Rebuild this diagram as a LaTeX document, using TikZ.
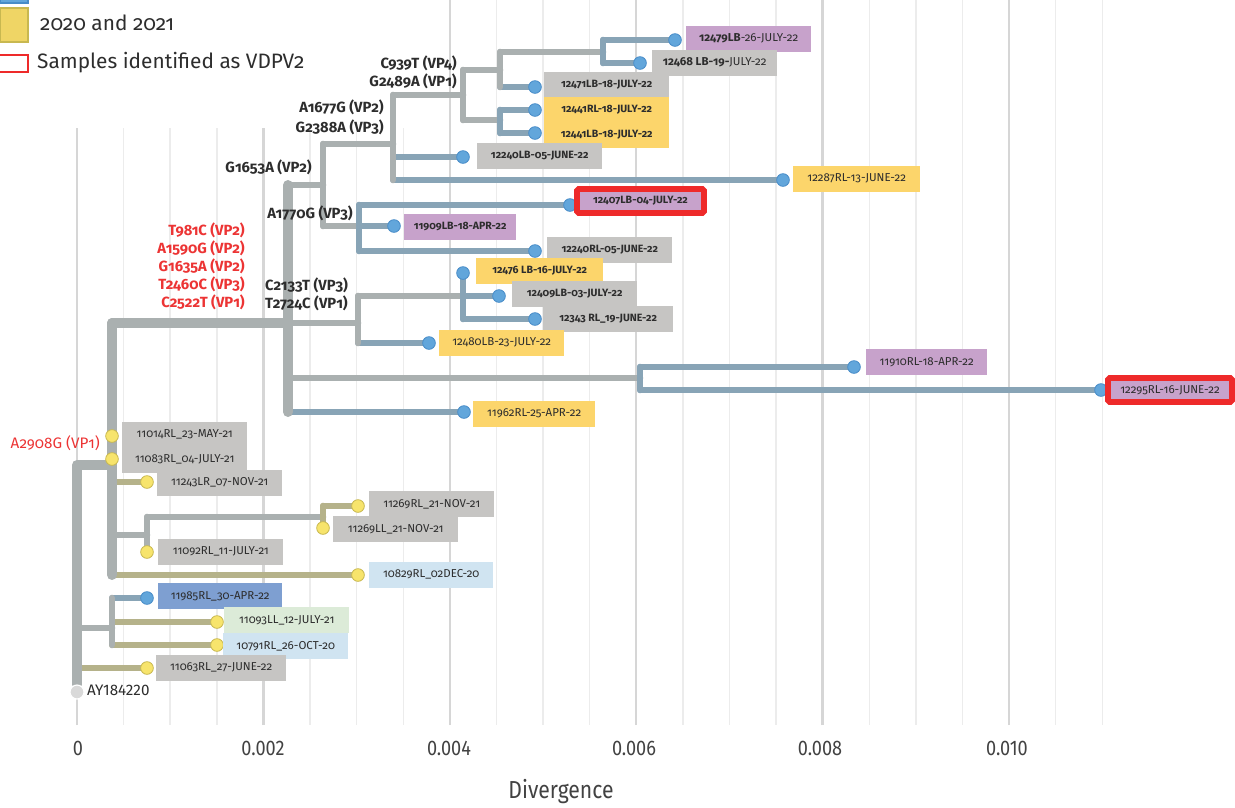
\documentclass[tikz,border=0pt]{standalone}
\usepackage{fontspec}
\setmainfont{Fira Sans}[Numbers=OldStyle]
\newfontfamily\axisfont{Fira Sans}[FakeStretch=0.86]
\newfontfamily\liningfont{Fira Sans}
\usepackage{xcolor}
\usepackage{tikz}
\usetikzlibrary{backgrounds}

\definecolor{brgray}{RGB}{170,176,176}
\definecolor{brblue}{RGB}{136,164,182}
\definecolor{brkhaki}{RGB}{181,178,138}
\definecolor{dotblue}{RGB}{98,166,219}
\definecolor{dotblueedge}{RGB}{72,140,200}
\definecolor{dotyellow}{RGB}{247,228,108}
\definecolor{dotyellowedge}{RGB}{200,184,80}
\definecolor{boxgray}{RGB}{198,197,195}
\definecolor{boxyellow}{RGB}{252,213,107}
\definecolor{boxpurple}{RGB}{199,162,203}
\definecolor{boxlightblue}{RGB}{208,228,241}
\definecolor{boxblue}{RGB}{126,159,209}
\definecolor{boxgreen}{RGB}{220,235,216}
\definecolor{vdpvred}{RGB}{238,42,42}
\definecolor{mutred}{RGB}{236,52,52}
\definecolor{labeltext}{RGB}{45,45,45}
\definecolor{gridminor}{RGB}{236,236,236}
\definecolor{gridmajor}{RGB}{214,214,214}

\tikzset{
  branch/.style={line width=5.6pt, line cap=round, line join=round, draw=brgray},
  trunk/.style={branch, line width=8.5pt},
  leafnew/.style={branch, draw=brblue},
  leafold/.style={branch, draw=brkhaki},
  tipnew/.style={circle, draw=dotblueedge, fill=dotblue, line width=0.7pt,
                 minimum size=0.38cm, inner sep=0pt},
  tipold/.style={tipnew, draw=dotyellowedge, fill=dotyellow},
  tipref/.style={circle, draw=white, fill=gray!30, line width=1pt,
                 minimum size=0.42cm, inner sep=0pt},
  sample/.style={rectangle, fill=boxgray, minimum width=3.75cm, minimum height=0.78cm,
                 inner sep=0pt, anchor=west, text=labeltext,
                 font=\fontsize{9.8}{11}\selectfont},
  strong/.style={font=\fontsize{9}{11}\selectfont\bfseries},
  graybox/.style={sample},
  yellowbox/.style={sample, fill=boxyellow},
  purplebox/.style={sample, fill=boxpurple},
  lightbluebox/.style={sample, fill=boxlightblue},
  bluebox/.style={sample, fill=boxblue},
  greenbox/.style={sample, fill=boxgreen},
  vdpvbox/.style={sample, anchor=center, fill=boxpurple, draw=vdpvred, line width=5pt,
                  rounded corners=1.5pt, minimum height=0.72cm},
  mutlabel/.style={font=\fontsize{12.6}{15.4}\selectfont\bfseries, text=labeltext, inner sep=0pt},
  redmut/.style={mutlabel, text=mutred},
  legendtext/.style={font=\fontsize{17.8}{20}\selectfont, text=labeltext, inner sep=0pt, anchor=west},
  ticklabel/.style={font=\axisfont\fontsize{18}{20}\selectfont, text=labeltext!90},
  gridthin/.style={draw=gridminor, line width=1.2pt},
  gridthick/.style={draw=gridmajor, line width=2pt},
}

\begin{document}
\begin{tikzpicture}[x=0.03cm, y=-0.03cm]
  \useasboundingbox (0,0) rectangle (1235,807);

  % --- divergence grid ---
  \begin{scope}[on background layer]
    \foreach \k in {0,...,22}
      \draw[gridthin] ({77+46.6*\k},725) -- ({77+46.6*\k},{ifthenelse(77+46.6*\k>440,0,128)});
    \foreach \k in {0,4,...,20}
      \draw[gridthick] ({77+46.6*\k},725) -- ({77+46.6*\k},{ifthenelse(77+46.6*\k>440,0,128)});
  \end{scope}

  % --- legend ---
  \node[rectangle, fill=dotblue, draw=dotblueedge, line width=1pt,
        minimum width=0.84cm, minimum height=0.27cm] (sw2022) at (14,-1.5) {};
  \node[rectangle, fill=dotyellow!85!brown, draw=dotyellowedge, line width=1.5pt,
        minimum width=0.84cm, minimum height=1.02cm] (sw2020) at (14,25) {};
  \node[legendtext] (lg2020) at (40,23) {2020 and 2021};
  \node[rectangle, fill=white, draw=vdpvred, line width=1.7pt,
        minimum width=0.99cm, minimum height=0.51cm] (swvdpv) at (11.5,63.5) {};
  \node[legendtext] (lgvdpv) at (37,63) {Samples identified as VDPV2};

  % --- inner nodes of the tree ---
  \coordinate (a2908g) at (112,465);
  \coordinate (t981c)  at (288,323);
  \coordinate (c2133t) at (358,323);
  \coordinate (n12409) at (463,296);
  \coordinate (n12295) at (640,378);
  \coordinate (n11092) at (147,535);
  \coordinate (g1653a) at (323,185);
  \coordinate (a1677g) at (393,144);
  \coordinate (a1770g) at (359,226);
  \coordinate (c939t)  at (463,95);
  \coordinate (n12471) at (500,70);
  \coordinate (n11985) at (112,628);
  \coordinate (n12441) at (500,120);
  \coordinate (n12479) at (603,52);
  \coordinate (n11269) at (323,517);

  % --- tips ---
  \node[tipnew] (t12479)   at (675,40)  {};
  \node[tipnew] (t12468)   at (640,63)  {};
  \node[tipnew] (t12471)   at (535,87)  {};
  \node[tipnew] (t12441rl) at (535,110) {};
  \node[tipnew] (t12441lb) at (535,133) {};
  \node[tipnew] (t12240lb) at (463,157) {};
  \node[tipnew] (t12287)   at (783,180) {};
  \node[tipnew] (t12407)   at (570,205) {};
  \node[tipnew] (t11909)   at (394,226) {};
  \node[tipnew] (t12240rl) at (535,251) {};
  \node[tipnew] (t12476)   at (463,273) {};
  \node[tipnew] (t12409)   at (499,296) {};
  \node[tipnew] (t12343)   at (535,319) {};
  \node[tipnew] (t12480)   at (429,343) {};
  \node[tipnew] (t11910)   at (854,367) {};
  \node[tipnew] (t12295)   at (1101,390) {};
  \node[tipnew] (t11962)   at (464,412) {};
  \node[tipold] (t11014)   at (112,436) {};
  \node[tipold] (t11083)   at (112,459) {};
  \node[tipold] (t11243)   at (147,482) {};
  \node[tipold] (t11269rl) at (358,506) {};
  \node[tipold] (t11269ll) at (323,528) {};
  \node[tipold] (t11092)   at (147,552) {};
  \node[tipold] (t10829)   at (358,575) {};
  \node[tipnew] (t11985)   at (147,598) {};
  \node[tipold] (t11093)   at (217,622) {};
  \node[tipold] (t10791)   at (217,645) {};
  \node[tipold] (t11063)   at (147,668) {};
  \node[tipref] (tay)      at (77,692)  {};
  \node[anchor=west, inner sep=0pt, text=labeltext,
        font=\liningfont\fontsize{13}{15}\selectfont] (ayname) at (87,690) {AY184220};

  % --- branches ---
  \begin{scope}[on background layer]
    \draw[leafnew] (n12479) |- (t12479);
    \draw[leafnew] (n12479) |- (t12468);
    \draw[leafnew] (n12471) |- (t12471);
    \draw[leafnew] (n12441) |- (t12441rl);
    \draw[leafnew] (n12441) |- (t12441lb);
    \draw[leafnew] (a1677g) |- (t12240lb);
    \draw[leafnew] (a1677g) |- (t12287);
    \draw[leafnew] (a1770g) |- (t12407);
    \draw[leafnew] (a1770g) |- (t11909);
    \draw[leafnew] (a1770g) |- (t12240rl);
    \draw[leafnew] (n12409) |- (t12409);
    \draw[leafnew] (n12409) |- (t12343);
    \draw[leafnew] (c2133t) |- (t12480);
    \draw[leafnew] (n12295) |- (t11910);
    \draw[leafnew] (n12295) |- (t12295);
    \draw[leafnew] (t981c) |- (t11962);
    \draw[leafnew] (n11985) |- (t11985);
    \draw[leafold] (a2908g) |- (t11243);
    \draw[leafold] (n11269) |- (t11269rl);
    \draw[leafold] (a2908g) |- (t10829);
    \draw[leafold] (n11985) |- (t11093);
    \draw[leafold] (n11985) |- (t10791);
    \draw[leafold] (tay) |- (t11063);

    \draw[branch] (n12471) |- (n12479);
    \draw[branch] (c939t) |- (n12471);
    \draw[branch] (c939t) |- (n12441);
    \draw[branch] (a1677g) |- (c939t);
    \draw[branch] (g1653a) |- (a1677g);
    \draw[branch] (g1653a) |- (a1770g);
    \draw[branch] (t981c) |- (g1653a);
    \draw[branch] (t981c) -- (c2133t);
    \draw[branch] (c2133t) |- (n12409);
    \draw[branch] (t981c) |- (n12295);
    \draw[branch] (a2908g) |- (n11092);
    \draw[branch] (n11092) |- (n11269);
    \draw[branch] (tay) |- (n11985);

    % vertical spans of the inner nodes
    \draw[leafnew] (n12479 |- t12479) -- (n12479 |- t12468);
    \draw[leafnew] (n12441 |- t12441rl) -- (n12441 |- t12441lb);
    \draw[leafnew] (a1770g |- t12407) -- (a1770g |- t12240rl);
    \draw[leafnew] (n12409 |- t12476) -- (n12409 |- t12343);
    \draw[leafnew] (n12295 |- t11910) -- (n12295 |- t12295);
    \draw[leafold] (n11269 |- t11269rl) -- (n11269 |- t11269ll);
    \draw[branch] (n12471 |- n12479) -- (n12471 |- t12471);
    \draw[branch] (c939t |- n12471) -- (c939t |- n12441);
    \draw[branch] (a1677g |- c939t) -- (a1677g |- t12287);
    \draw[branch] (g1653a |- a1677g) -- (g1653a |- a1770g);
    \draw[branch] (c2133t |- n12409) -- (c2133t |- t12480);
    \draw[branch] (n11092 |- n11269) -- (n11092 |- t11092);
    \draw[branch] (n11985 |- t11985) -- (n11985 |- t10791);

    % backbone
    \draw[trunk] (tay) |- (a2908g);
    \draw[trunk] (a2908g |- t981c) -- (a2908g |- t10829);
    \draw[trunk] (a2908g |- t981c) -- (t981c);
    \draw[trunk] (t981c |- g1653a) -- (t981c |- t11962);
  \end{scope}

  % --- mutations ---
  \node[mutlabel, anchor=east, align=right] (mc939t) at (457,72) {C939T (VP4)\\G2489A (VP1)};
  \node[mutlabel, anchor=east, align=right, font=\fontsize{12.6}{17}\selectfont\bfseries]
    (ma1677g) at (384,117) {A1677G (VP2)\\G2388A (VP3)};
  \node[mutlabel, anchor=east] (mg1653a) at (312,167) {G1653A (VP2)};
  \node[mutlabel, anchor=east] (ma1770g) at (353,213) {A1770G (VP3)};
  \node[redmut, anchor=east, align=right] (mt981c) at (245,266)
    {T981C (VP2)\\A1590G (VP2)\\G1635A (VP2)\\T2460C (VP3)\\C2522T (VP1)};
  \node[mutlabel, anchor=west, align=left] (mc2133t) at (265,294) {C2133T (VP3)\\T2724C (VP1)};
  \node[redmut, anchor=east, font=\fontsize{13}{15}\selectfont] (ma2908g) at (100,443) {A2908G (VP1)};

  % --- sample labels ---
  \node[purplebox] (b12479) at (686,38.5) {\textbf{12479LB}-26-JULY-22};
  \node[graybox] (b12468) at (652,62.5) {\textbf{12468 LB-19-}JULY-22};
  \node[graybox, strong] (b12471) at (544,84.5) {12471LB-18-JULY-22};
  \node[yellowbox, strong] (b12441rl) at (544,109.5) {12441RL-18-JULY-22};
  \node[yellowbox, strong] (b12441lb) at (544,134.5) {12441LB-18-JULY-22};
  \node[graybox, strong] (b12240lb) at (477,156) {12240LB-05-JUNE-22};
  \node[yellowbox, minimum width=3.81cm] (b12287) at (793,178.5) {12287RL-13-JUNE-22};
  \node[vdpvbox, strong, minimum width=3.81cm] (b12407) at (640.5,201) {12407LB-04-JULY-22};
  \node[purplebox, strong, minimum width=3.36cm] (b11909) at (404,226.5) {11909LB-18-APR-22};
  \node[graybox, strong] (b12240rl) at (547,249.5) {12240RL-05-JUNE-22};
  \node[yellowbox, strong, minimum width=3.81cm] (b12476) at (476,271) {12476 LB-16-JULY-22};
  \node[graybox, strong] (b12409) at (512,293.5) {12409LB-03-JULY-22};
  \node[graybox, strong, minimum width=3.9cm] (b12343) at (543,319) {12343 RL\_19-JUNE-22};
  \node[yellowbox] (b12480) at (439,342.5) {12480LB-23-JULY-22};
  \node[yellowbox, minimum width=3.66cm] (b11962) at (473,413.5) {11962RL-25-APR-22};
  \node[purplebox, minimum width=3.63cm] (b11910) at (866,362) {11910RL-18-APR-22};
  \node[vdpvbox, minimum width=3.72cm] (b12295) at (1170,390) {12295RL-16-JUNE-22};
  \node[graybox] (b11014) at (122,434.5) {11014RL\_23-MAY-21};
  \node[graybox] (b11083) at (122,459.5) {11083RL\_04-JULY-21};
  \node[graybox] (b11243) at (157,482.5) {11243LR\_07-NOV-21};
  \node[graybox] (b11269rl) at (369,504) {11269RL\_21-NOV-21};
  \node[graybox] (b11269ll) at (333,529) {11269LL\_21-NOV-21};
  \node[graybox] (b11092) at (158,551.5) {11092RL\_11-JULY-21};
  \node[lightbluebox, minimum width=3.72cm] (b10829) at (369,574.5) {10829RL\_02DEC-20};
  \node[bluebox, minimum width=3.72cm] (b11985) at (158,596) {11985RL\_30-APR-22};
  \node[greenbox] (b11093) at (224,620) {11093LL\_12-JULY-21};
  \node[lightbluebox] (b10791) at (223,646) {10791RL\_26-OCT-20};
  \node[graybox, minimum width=3.9cm] (b11063) at (156,667.5) {11063RL\_27-JUNE-22};

  % --- axis ---
  \foreach \x/\lab [count=\i] in {78/0, 263/0.002, 449/0.004, 634/0.006, 820/0.008, 1007/0.010}
    \node[ticklabel] (tick\i) at (\x,748) {\lab};
  \node[ticklabel, font=\axisfont\fontsize{21}{23}\selectfont] (xtitle) at (561,792) {Divergence};

\end{tikzpicture}
\end{document}
